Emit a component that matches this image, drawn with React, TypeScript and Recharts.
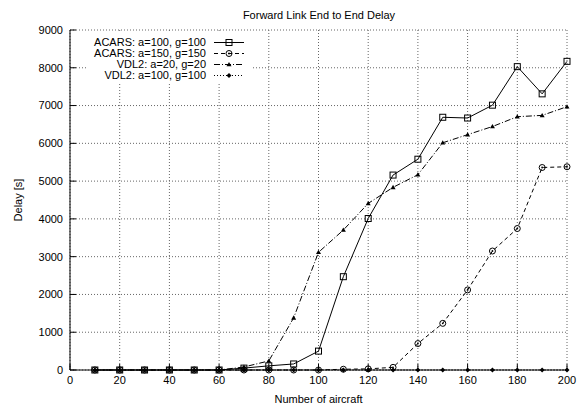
import { LineChart, Line, XAxis, YAxis, CartesianGrid } from 'recharts';

const aircraft = [10, 20, 30, 40, 50, 60, 70, 80, 90, 100, 110, 120, 130, 140, 150, 160, 170, 180, 190, 200];
const acars100 = [0, 0, 0, 0, 0, 0, 50, 110, 160, 500, 2470, 4010, 5160, 5580, 6690, 6670, 7010, 8030, 7310, 8170];
const acars150 = [0, 0, 0, 0, 0, 0, 0, 0, 0, 0, 20, 30, 70, 700, 1235, 2120, 3150, 3745, 5360, 5380];
const vdl20 = [0, 0, 0, 0, 0, 0, 80, 240, 1380, 3115, 3705, 4410, 4835, 5170, 6015, 6230, 6445, 6705, 6740, 6970];
const vdl100 = [0, 0, 0, 0, 0, 0, 0, 0, 0, 0, 0, 0, 0, 0, 0, 0, 0, 0, 0, 0];

const xTicks = [0, 20, 40, 60, 80, 100, 120, 140, 160, 180, 200];
const yTicks = [0, 1000, 2000, 3000, 4000, 5000, 6000, 7000, 8000, 9000];

const data = aircraft.map((n, i) => ({
  n,
  acars100: acars100[i],
  acars150: acars150[i],
  vdl20: vdl20[i],
  vdl100: vdl100[i],
}));

const FONT = '"Liberation Sans", Arial, sans-serif';
const tickStyle = { fontSize: 11, fill: '#000', fontFamily: FONT };

const Square = ({ cx, cy }: { cx: number; cy: number }) => (
  <rect x={cx - 3} y={cy - 3} width={6} height={6} fill="none" stroke="#000" strokeWidth={1} />
);
const CircleDot = ({ cx, cy }: { cx: number; cy: number }) => (
  <g>
    <circle cx={cx} cy={cy} r={3} fill="none" stroke="#000" strokeWidth={1} />
    <circle cx={cx} cy={cy} r={0.9} fill="#000" />
  </g>
);
const Triangle = ({ cx, cy }: { cx: number; cy: number }) => (
  <path d={`M${cx},${cy - 2.5} L${cx + 2.5},${cy + 1.8} L${cx - 2.5},${cy + 1.8} Z`} fill="#000" />
);
const Diamond = ({ cx, cy }: { cx: number; cy: number }) => (
  <path d={`M${cx},${cy - 2.5} L${cx + 2.5},${cy} L${cx},${cy + 2.5} L${cx - 2.5},${cy} Z`} fill="#000" />
);

const series = [
  { key: 'acars100', name: 'ACARS: a=100, g=100', dash: undefined, Marker: Square },
  { key: 'acars150', name: 'ACARS: a=150, g=150', dash: '4 3', Marker: CircleDot },
  { key: 'vdl20', name: 'VDL2: a=20, g=20', dash: '6 2 1 2', Marker: Triangle },
  { key: 'vdl100', name: 'VDL2: a=100, g=100', dash: '1 2', Marker: Diamond },
];

export default function App() {
  return (
    <div style={{ position: 'absolute', left: 0, top: 0, width: 583, height: 406, background: '#fff' }}>
      <div
        style={{
          position: 'absolute', left: 0, width: 638, top: 8, textAlign: 'center',
          fontFamily: FONT, fontSize: 11, lineHeight: '14px', color: '#000',
        }}
      >
        Forward Link End to End Delay
      </div>
      <LineChart width={583} height={406} data={data} margin={{ top: 30, right: 16, left: 0, bottom: 0 }}>
        <CartesianGrid stroke="#666" strokeDasharray="1 2" />
        <XAxis
          dataKey="n"
          type="number"
          domain={[0, 200]}
          ticks={xTicks}
          height={36}
          stroke="#000"
          tickSize={-6}
          tickMargin={12}
          tick={tickStyle}
          label={{ value: 'Number of aircraft', position: 'insideBottom', offset: 3, style: { fontSize: 11, fill: '#000', fontFamily: FONT } }}
        />
        <XAxis xAxisId="top" orientation="top" type="number" domain={[0, 200]} ticks={xTicks} height={0} stroke="#000" tickSize={-6} tick={false} />
        <YAxis
          type="number"
          domain={[0, 9000]}
          ticks={yTicks}
          width={70}
          stroke="#000"
          tickSize={-6}
          tickMargin={13}
          tick={tickStyle}
          label={{ value: 'Delay [s]', angle: -90, position: 'insideLeft', offset: 18, style: { textAnchor: 'middle', fontSize: 11, fill: '#000', fontFamily: FONT } }}
        />
        <YAxis yAxisId="right" orientation="right" type="number" domain={[0, 9000]} ticks={yTicks} width={0} stroke="#000" tickSize={-6} tick={false} />
        {series.map((s) => (
          <Line
            key={s.key}
            dataKey={s.key}
            name={s.name}
            type="linear"
            stroke="#000"
            strokeWidth={1}
            strokeDasharray={s.dash}
            isAnimationActive={false}
            dot={(p: any) => <s.Marker key={`${s.key}-${p.index}`} cx={p.cx} cy={p.cy} />}
            activeDot={false}
          />
        ))}
      </LineChart>
      <div
        style={{
          position: 'absolute', left: 88, top: 31, width: 164, paddingTop: 6, paddingBottom: 1,
          background: '#fff', fontFamily: FONT, fontSize: 11, color: '#000',
        }}
      >
        {series.map((s) => (
          <div key={s.key} style={{ display: 'flex', alignItems: 'center', height: 11 }}>
            <span style={{ width: 118, textAlign: 'right', lineHeight: '11px', whiteSpace: 'nowrap' }}>{s.name}</span>
            <svg width={38} height={11} style={{ marginLeft: 8 }}>
              <line x1={0} y1={5.5} x2={30} y2={5.5} stroke="#000" strokeWidth={1} strokeDasharray={s.dash} />
              <s.Marker cx={15} cy={5.5} />
            </svg>
          </div>
        ))}
      </div>
    </div>
  );
}
